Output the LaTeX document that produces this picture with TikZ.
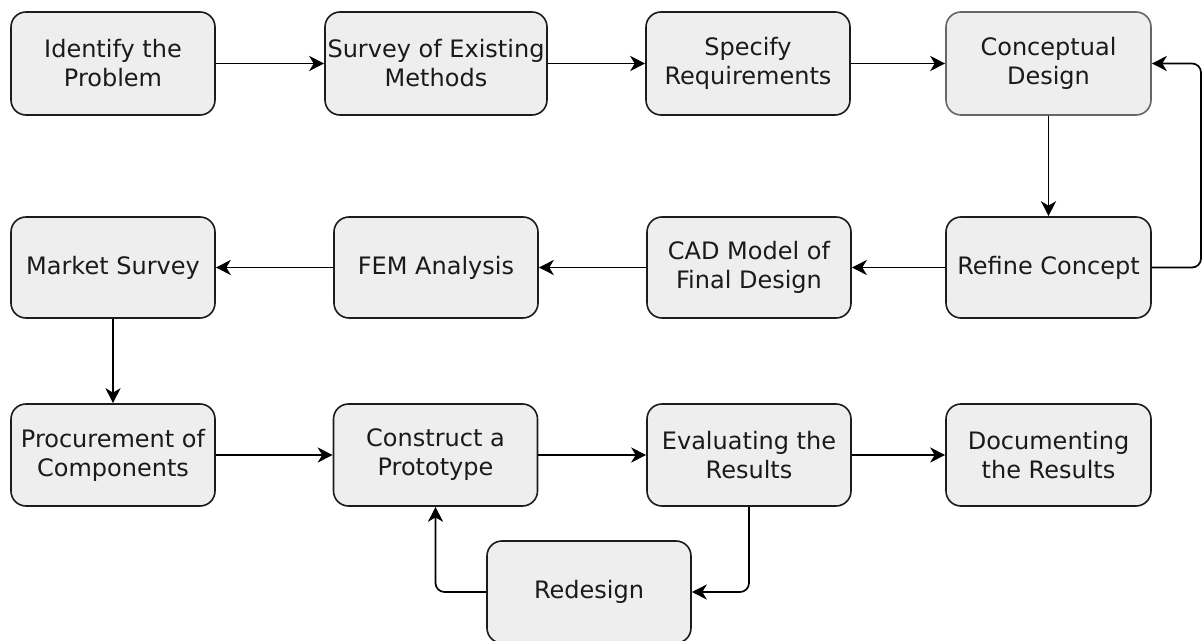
\documentclass[tikz,border=0pt]{standalone}
\usepackage{fontspec}
\setmainfont{DejaVu Sans}
\usetikzlibrary{arrows.meta}
\definecolor{boxfill}{HTML}{EEEEEE}
\definecolor{boxline}{HTML}{1C1C1C}
\definecolor{boxlinelight}{HTML}{666666}
\definecolor{txt}{HTML}{1A1A1A}
\tikzset{
  stepbox/.style={draw=boxline, fill=boxfill, line width=1.6bp, rounded corners=15bp,
    align=center, text=txt, inner sep=0pt,
    font=\fontsize{24bp}{29bp}\selectfont},
  wbox/.style={stepbox, minimum width=204bp, minimum height=103bp},
  conn/.style={draw=black, line width=1.7bp, rounded corners=9bp,
    -{Stealth[length=15bp,width=15bp,inset=4.5bp]}}
}
\begin{document}
\begin{tikzpicture}[x=1bp,y=-1bp]
\useasboundingbox (0,0) rectangle (1203,641);
% row 1
\node[wbox] (idp) at (113,63.5) {Identify the\\Problem};
\node[stepbox, minimum width=222bp, minimum height=103bp] (sur) at (436,63.5) {Survey of Existing\\Methods};
\node[wbox] (spe) at (748,63.5) {Specify\\Requirements};
\node[wbox, draw=boxlinelight, minimum width=205bp] (con) at (1048.5,63.5) {Conceptual\\Design};
% row 2
\node[wbox, minimum height=101bp] (mkt) at (113,267.5) {Market Survey};
\node[wbox, minimum height=101bp] (fem) at (436,267.5) {FEM Analysis};
\node[wbox, minimum height=101bp] (cad) at (749,267.5) {CAD Model of\\Final Design};
\node[wbox, minimum width=205bp, minimum height=101bp] (ref) at (1048.5,267.5) {Refine Concept};
% row 3
\node[wbox, minimum height=102bp] (pro) at (113,455) {Procurement of\\Components};
\node[wbox, minimum height=102bp] (cst) at (435.5,455) {Construct a\\Prototype};
\node[wbox, minimum height=102bp] (eva) at (749,455) {Evaluating the\\Results};
\node[wbox, minimum width=205bp, minimum height=102bp] (doc) at (1048.5,455) {Documenting\\the Results};
% redesign
\node[wbox, minimum height=102bp] (red) at (589,592) {Redesign};
\coordinate (rl) at (1201,0);
% connectors
\draw[conn] (idp.east) -- (sur.west);
\draw[conn] (sur.east) -- (spe.west);
\draw[conn] (spe.east) -- (con.west);
\draw[conn] (con.south) -- (ref.north);
\draw[conn] (ref.east) -- (ref.east -| rl) -- (con.east -| rl) -- (con.east);
\draw[conn] (ref.west) -- (cad.east);
\draw[conn] (cad.west) -- (fem.east);
\draw[conn] (fem.west) -- (mkt.east);
\draw[conn] (mkt.south) -- (pro.north);
\draw[conn] (pro.east) -- (cst.west);
\draw[conn] (cst.east) -- (eva.west);
\draw[conn] (eva.east) -- (doc.west);
\draw[conn] (eva.south) -- (eva.south |- red.east) -- (red.east);
\draw[conn] (red.west) -- (cst.south |- red.west) -- (cst.south);
\end{tikzpicture}
\end{document}
